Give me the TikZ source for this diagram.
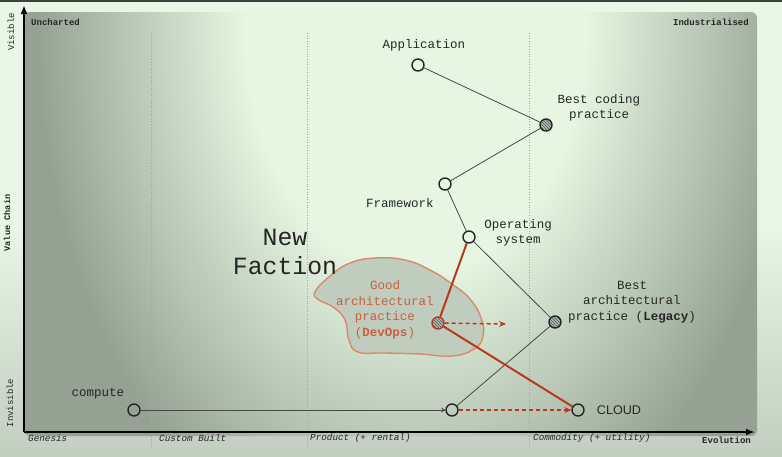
\documentclass[tikz,border=0pt]{standalone}
\usepackage{fontspec}
\setmonofont{Liberation Mono}
\newfontfamily\cloudfont{Liberation Sans}
\usepackage{xcolor}
\usetikzlibrary{arrows.meta,positioning,patterns}

\definecolor{pgtop}{HTML}{E8F6E5}
\definecolor{pgbot}{HTML}{C2CEC0}
\definecolor{plight}{HTML}{E6F6E2}
\definecolor{pdark}{HTML}{95A293}
\definecolor{ink}{HTML}{262626}
\definecolor{rust}{HTML}{B8391C}
\definecolor{rustlt}{HTML}{C8603C}
\definecolor{blobedge}{HTML}{D68B6C}
\definecolor{blobfill}{HTML}{C0CCBE}
\definecolor{hatchbg}{HTML}{B3BCB1}

\pgfdeclareverticalshading{pagebg}{100bp}{color(0bp)=(pgbot); color(25bp)=(pgbot);
  color(50bp)=(pgtop); color(75bp)=(pgtop); color(100bp)=(pgtop)}
\pgfdeclareradialshading{plotbg}{\pgfpoint{0bp}{0bp}}{color(0bp)=(plight); color(5.6bp)=(plight);
  color(12.5bp)=(pdark); color(50bp)=(pdark)}

\begin{document}
\begin{tikzpicture}[
  x=1pt,y=-1pt,
  font=\ttfamily\fontsize{12.5}{15.5}\selectfont,
  pt/.style={circle,draw=ink,line width=1.4pt,minimum size=12pt,inner sep=0pt},
  hatch/.style={pt,preaction={fill=hatchbg},pattern=north west lines,pattern color=ink!80},
  lbl/.style={text=ink,align=center,inner sep=0pt},
  redlbl/.style={lbl,text=rustlt},
  link/.style={draw=ink!85,line width=0.8pt},
  redlink/.style={draw=rust,line width=2pt},
  drift/.style={draw=rust,line width=1.5pt,dash pattern=on 4pt off 3pt,
                -{Stealth[length=7pt,width=6pt]}},
  axisline/.style={draw=black,line width=2.5pt,-{Latex[length=9pt,width=7pt]}},
  divider/.style={draw=black!35,line width=0.6pt,dotted},
  stage/.style={font=\ttfamily\itshape\fontsize{9.3}{11}\selectfont,text=ink,anchor=west,inner sep=0pt},
  corner/.style={font=\ttfamily\bfseries\fontsize{9}{11}\selectfont,text=ink,inner sep=0pt},
  side/.style={font=\ttfamily\fontsize{9}{11}\selectfont,text=ink,rotate=90,inner sep=0pt},
  blob/.style={draw=blobedge,line width=1.4pt,fill=blobfill}
]

% ===================== background =====================
\useasboundingbox (0,0) rectangle (782,456);
\shade[shading=pagebg] (0,0) rectangle (782,456);
\fill[black!75] (0,0) rectangle (782,1.5);
\begin{scope}
  \clip[rounded corners=6pt] (24,436) -- (24,12) -- (757,12) -- (757,436) -- cycle;
  \shade[shading=plotbg] (415,20) ellipse [x radius=760pt, y radius=1120pt];
\end{scope}

% stage dividers
\foreach \xd in {151,307,529}
  \draw[divider] (\xd,33) -- (\xd,448);

% ===================== axes =====================
\coordinate (origin) at (24,432);
\coordinate (ytip) at (24,5);
\coordinate (xtip) at (755,432);
\draw[axisline] (origin) -- (ytip);
\draw[axisline] (origin) -- (xtip);

\node[corner,anchor=west] (unch) at (31,22) {Uncharted};
\node[corner,anchor=east] (indus) at (749,22) {Industrialised};
\node[corner,anchor=east] (evol) at (751,440) {Evolution};
\node[side] (vis) at (11,32) {Visible};
\node[side,font=\ttfamily\bfseries\fontsize{8.6}{10}\selectfont] (vchain) at (7,223) {Value Chain};
\node[side] (invis) at (10,403) {Invisible};

\node[stage] (gen) at (28,438) {Genesis};
\node[stage] (custom) at (159,438) {Custom Built};
\node[stage] (prod) at (310,438) {Product (+ rental)};
\node[stage] (comm) at (533,438) {Commodity (+ utility)};

% ===================== new faction =====================
\draw[blob] plot[smooth cycle,tension=0.75] coordinates {
  (315,292) (330,276) (350,263) (375,258) (405,260) (430,270) (452,284)
  (470,299) (481,318) (483,336) (474,349) (452,356) (420,354) (385,353)
  (358,352) (349,340) (345,320) (333,307) (319,300)};
\node[lbl,font=\ttfamily\fontsize{24.8}{29}\selectfont] (faction) at (285,252) {New\\Faction};

% ===================== components =====================
\node[pt] (app) at (418,65) {};
\node[hatch] (bcp) at (546,125) {};
\node[pt] (fw) at (445,184) {};
\node[pt] (os) at (469,237) {};
\node[hatch,draw=rust] (devops) at (438,323) {};
\node[hatch] (legacy) at (555,322) {};
\node[pt] (compute) at (134,410) {};
\node[pt] (infra) at (452,410) {};
\node[pt] (cloud) at (578,410) {};
\coordinate (devgo) at (506,324);

\node[lbl] (appl) at (424,45) {Application};
\node[lbl] (bcpl) at (599,108) {Best coding\\practice};
\node[lbl] (fwl) at (400,203) {Framework};
\node[lbl] (osl) at (518,233) {Operating\\system};
\node[lbl] (legl) at (632,302) {Best\\architectural\\practice (\textbf{Legacy})};
\node[lbl] (computel) at (98,394) {compute};
\node[redlbl] (devopsl) at (385,310) {Good\\architectural\\practice\\(\textbf{DevOps})};
\node[lbl,font=\cloudfont\fontsize{12.6}{15}\selectfont,right=12pt of cloud] (cloudl) {CLOUD};

% ===================== links =====================
\draw[link] (app) -- (bcp);
\draw[link] (bcp) -- (fw);
\draw[link] (fw) -- (os);
\draw[link] (os) -- (legacy);
\draw[link] (legacy) -- (infra);
\draw[link,-{To[length=4pt,width=5pt]}] (compute) -- (infra);
% shift to devops
\draw[redlink] (os) -- (devops);
\draw[redlink] (devops) -- (cloud);
\draw[drift] (devops) -- (devgo);
\draw[drift] (infra) -- (cloud);

\end{tikzpicture}
\end{document}
